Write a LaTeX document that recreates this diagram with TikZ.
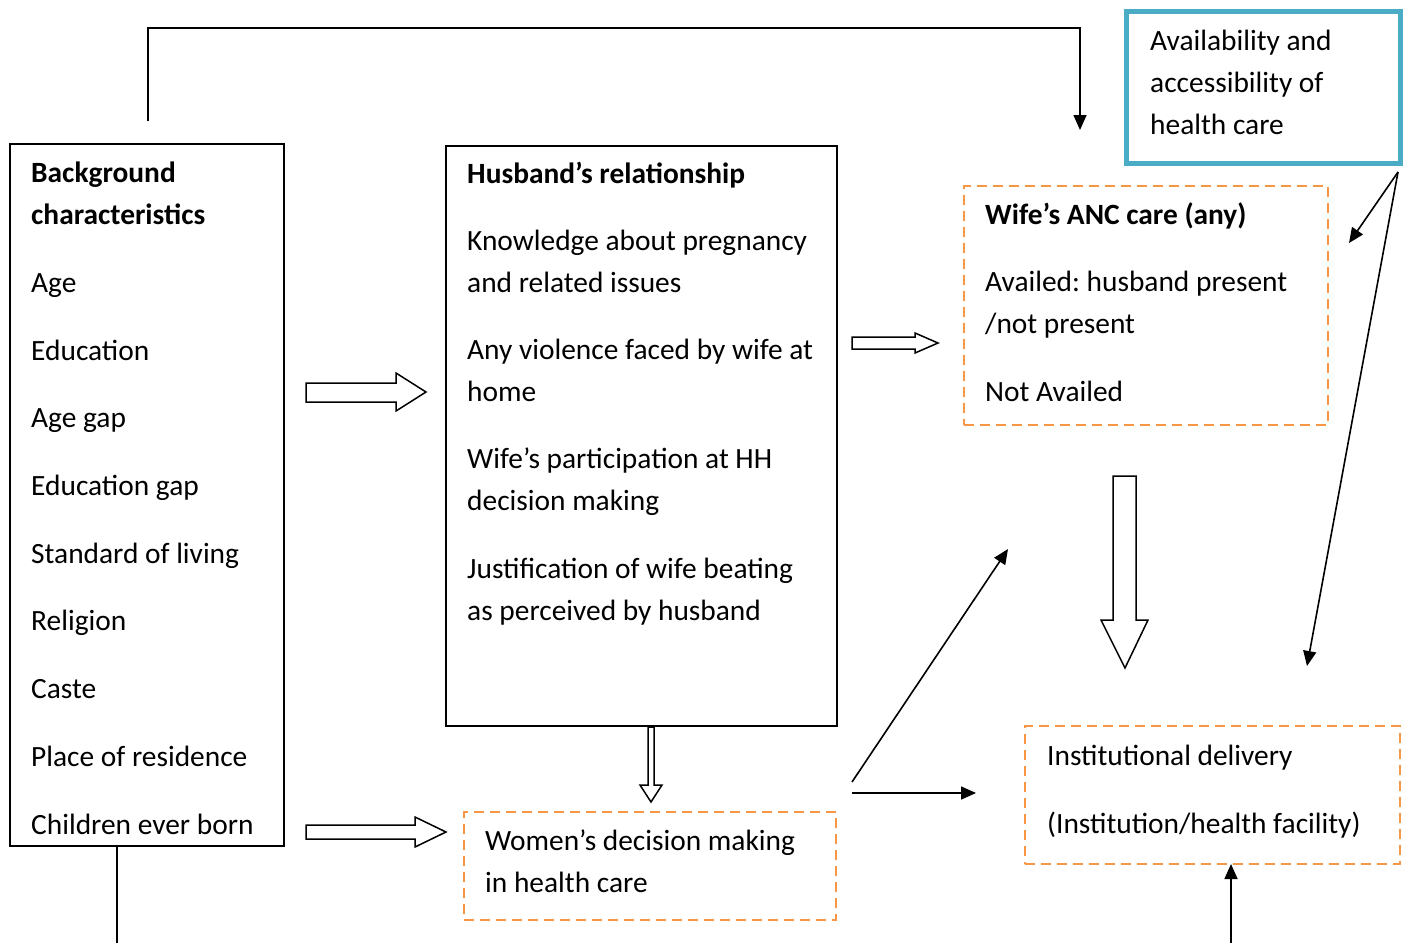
\documentclass[tikz,border=0pt]{standalone}
\usepackage{fontspec}
\setmainfont{Carlito}
\usetikzlibrary{arrows.meta}
\definecolor{orng}{HTML}{F79646}
\definecolor{teal2}{HTML}{4BACC6}
\begin{document}
\frenchspacing
\begin{tikzpicture}[x=1pt,y=-1pt,
  bbox/.style={draw=black,line width=1.8pt,inner sep=0pt,outer sep=0pt,anchor=north west},
  obox/.style={draw=orng,line width=2.4pt,dash pattern=on 10pt off 6pt,inner sep=0pt,outer sep=0pt,anchor=north west},
  tbox/.style={draw=teal2,line width=5pt,inner sep=0pt,outer sep=0pt,anchor=north west},
  txt/.style={anchor=base west,inner sep=0pt,align=left,font=\fontsize{29.4pt}{42pt}\selectfont},
  conn/.style={line width=1.6pt,-{Triangle[length=15pt,width=13pt]}},
  plain/.style={line width=1.6pt},
  blk/.style={draw=black,line width=1.5pt,fill=white,line join=miter}]
\useasboundingbox (0,0) rectangle (1408,943);
% boxes
\node[bbox,minimum width=274pt,minimum height=702pt] (bg) at (10,144) {};
\node[bbox,minimum width=391pt,minimum height=580pt] (hus) at (446,146) {};
\node[tbox,minimum width=274pt,minimum height=152pt] (avail) at (1126.5,11.5) {};
\node[obox,minimum width=364pt,minimum height=239pt] (anc) at (964,186) {};
\node[obox,minimum width=372pt,minimum height=108pt] (wdm) at (464,812) {};
\node[obox,minimum width=375pt,minimum height=138pt] (inst) at (1025,726) {};
% texts (anchored at the baseline of their last line)
\node[txt] (bgt) at (31,834) {\textbf{Background}\\\textbf{characteristics}\\[25.7pt]Age\\[25.7pt]Education\\[25.7pt]Age gap\\[25.7pt]Education gap\\[25.7pt]Standard of living\\[25.7pt]Religion\\[25.7pt]Caste\\[25.7pt]Place of residence\\[25.7pt]Children ever born};
\node[txt] (hust) at (467,620) {\textbf{Husband’s relationship}\\[25.2pt]Knowledge about pregnancy\\and related issues\\[25.2pt]Any violence faced by wife at\\home\\[25.2pt]Wife’s participation at HH\\decision making\\[25.2pt]Justification of wife beating\\as perceived by husband};
\node[txt] (availt) at (1150,134) {Availability and\\accessibility of\\health care};
\node[txt] (anct) at (985,401) {\textbf{Wife’s ANC care (any)}\\[25.2pt]Availed: husband present\\/not present\\[25.2pt]Not Availed};
\node[txt] (wdmt) at (485,892) {Women’s decision making\\in health care};
\node[txt] (instt) at (1047,833) {Institutional delivery\\[26pt](Institution/health facility)};
% named free ends
\coordinate (topstart) at (148,121);
\coordinate (topend) at (1080,130);
\coordinate (bgdown) at (117,943);
\coordinate (fromw1) at (852,782);
\coordinate (tow1) at (1008,549);
\coordinate (fromw2) at (852,793);
\coordinate (tow2) at (976,793);
\coordinate (bottomin) at (1231,943);
\coordinate (avc) at (1398,172);
\coordinate (avto1) at (1349,243);
\coordinate (avto2) at (1307,666);
% line connectors
\draw[conn] (topstart) |- (148,28) -| (topend);
\draw[plain] (bg.south west -| bgdown) -- (bgdown);
\draw[conn] (fromw1) -- (tow1);
\draw[conn] (fromw2) -- (tow2);
\draw[conn] (bottomin) -- (inst.south -| bottomin);
\draw[conn] (avc) -- (avto1);
\draw[conn] (avc) -- (avto2);
% block arrows
\draw[blk] (306,383) -- (396,383) -- (396,373) -- (426,392) -- (396,411) -- (396,402) -- (306,402) -- cycle;
\draw[blk] (306,825) -- (415,825) -- (415,817) -- (446,832) -- (415,847) -- (415,839) -- (306,839) -- cycle;
\draw[blk] (852,337) -- (915,337) -- (915,333) -- (938,343) -- (915,353) -- (915,349) -- (852,349) -- cycle;
\draw[blk] (648,727) -- (654,727) -- (654,785) -- (662,785) -- (651,802) -- (640,785) -- (648,785) -- cycle;
\draw[blk] (1113,476) -- (1136,476) -- (1136,620) -- (1148,620) -- (1125,668) -- (1101,620) -- (1113,620) -- cycle;
\end{tikzpicture}
\end{document}
